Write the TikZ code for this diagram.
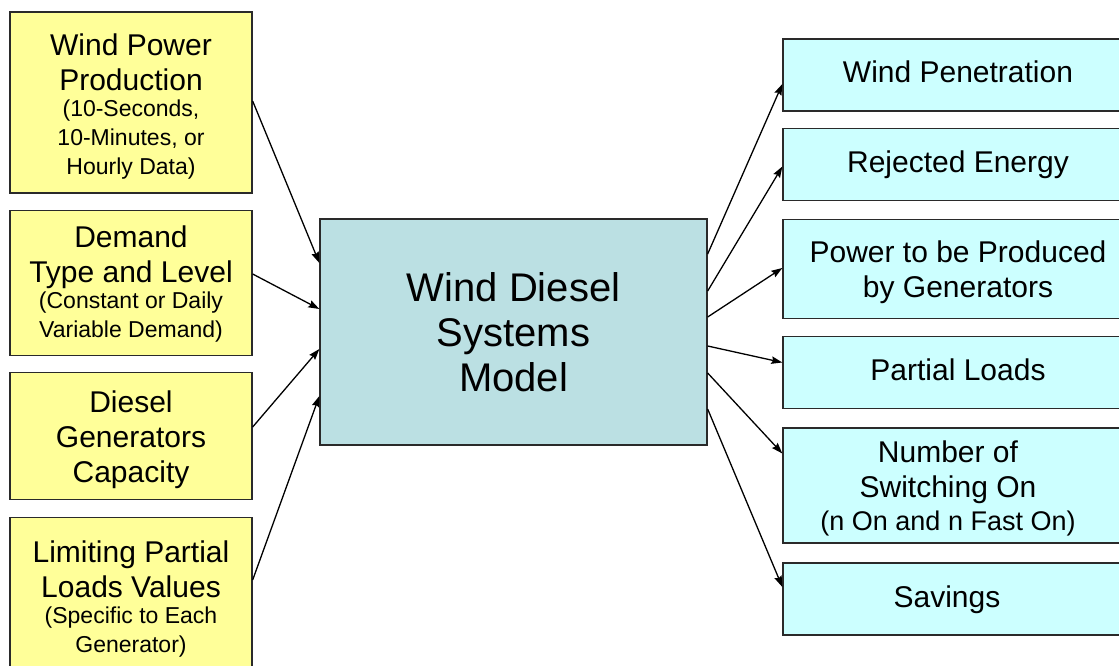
\documentclass[tikz,border=0pt]{standalone}
\usepackage{fontspec}
\setmainfont{Liberation Sans}
\usetikzlibrary{arrows.meta}

\definecolor{inyellow}{HTML}{FFFF99}
\definecolor{modelblue}{HTML}{BBE0E3}
\definecolor{outcyan}{HTML}{CCFFFF}
\definecolor{edgegray}{HTML}{2A2A2A}

\newcommand\mainfs{\fontsize{30}{35}\selectfont}
\newcommand\subfs{\fontsize{23}{29}\selectfont}
\newcommand\outsubfs{\fontsize{27}{33}\selectfont}
\newcommand\titlefs{\fontsize{40}{45}\selectfont}

\tikzset{
  boxbase/.style={draw=edgegray, line width=1.3pt, inner sep=0pt, align=center},
  inbox/.style={boxbase, align=flush center, fill=inyellow, minimum width=242pt, text width=236pt, font=\mainfs},
  modelbox/.style={boxbase, fill=modelblue, minimum width=387pt, minimum height=226pt, font=\titlefs},
  outbox/.style={boxbase, fill=outcyan, minimum width=350pt, font=\mainfs},
  oneline/.style={text height=22pt, text depth=6pt},
  flow/.style={line width=1.3pt, -{Stealth[length=11pt, width=7.5pt, inset=1.5pt]}}
}

\begin{document}
\begin{tikzpicture}[x=1pt, y=-1pt]
  \useasboundingbox (0,0) rectangle (1119,666);
  \fill[white] (0,0) rectangle (1119,666);
  \clip (0,0) rectangle (1119,666);

  % inputs
  \node[inbox, text height=30pt, minimum height=181pt] (wind) at (131,102.5)
    {{Wind Power\\Production\par}\vspace{-3pt}{\subfs (10-Seconds,\\10-Minutes, or\\Hourly Data)\par}};
  \node[inbox, text height=24pt, minimum height=144.5pt] (demand) at (131,283)
    {{Demand\\Type and Level\par}\vspace{-3pt}{\subfs (Constant or Daily\\Variable Demand)\par}};
  \node[inbox, text height=29pt, minimum height=127pt] (diesel) at (131,436)
    {Diesel\\Generators\\Capacity\par};
  \node[inbox, text height=24pt, minimum height=160pt] (limit) at (131,597.5)
    {{Limiting Partial\\Loads Values\par}\vspace{-3pt}{\subfs (Specific to Each\\Generator)\par}};

  % model
  \node[modelbox] (model) at (513.5,332) {Wind Diesel\\Systems\\Model};

  % outputs
  \node[outbox, oneline, minimum height=72pt] (pen) at (958,75) {Wind Penetration};
  \node[outbox, oneline, minimum height=72pt] (rej) at (958,164.5) {Rejected Energy};
  \node[outbox, text depth=0pt, minimum height=99pt] (power) at (958,269) {Power to be Produced\\by Generators};
  \node[outbox, oneline, minimum height=72.5pt] (part) at (958,372.5) {Partial Loads};
  \node[outbox, text depth=0pt, minimum height=115pt] (switch) at (958,485.5)
    {\hspace*{-20pt}Number of\\\hspace*{-20pt}Switching On\\[-2pt]{\outsubfs\hspace*{-20pt}(n On and n Fast On)}};
  \node[outbox, oneline, minimum height=72pt] (sav) at (958,599) {\hspace*{-22pt}Savings};

  % inputs into the model
  \draw[flow] ([yshift=1.5pt]wind.east) -- ([yshift=69pt]model.west);
  \draw[flow] ([yshift=9pt]demand.east) -- ([yshift=23pt]model.west);
  \draw[flow] ([yshift=9pt]diesel.east) -- ([yshift=-17pt]model.west);
  \draw[flow] ([yshift=17.5pt]limit.east) -- ([yshift=-64pt]model.west);

  % model results
  \draw[flow] ([yshift=78pt]model.east) -- ([yshift=-9pt]pen.west);
  \draw[flow] ([yshift=41pt]model.east) -- ([yshift=-2pt]rej.west);
  \draw[flow] ([yshift=15pt]model.east) -- ([yshift=1pt]power.west);
  \draw[flow] ([yshift=-14pt]model.east) -- ([yshift=10pt]part.west);
  \draw[flow] ([yshift=-41pt]model.east) -- ([yshift=32pt]switch.west);
  \draw[flow] ([yshift=-77pt]model.east) -- ([yshift=12pt]sav.west);
\end{tikzpicture}
\end{document}
